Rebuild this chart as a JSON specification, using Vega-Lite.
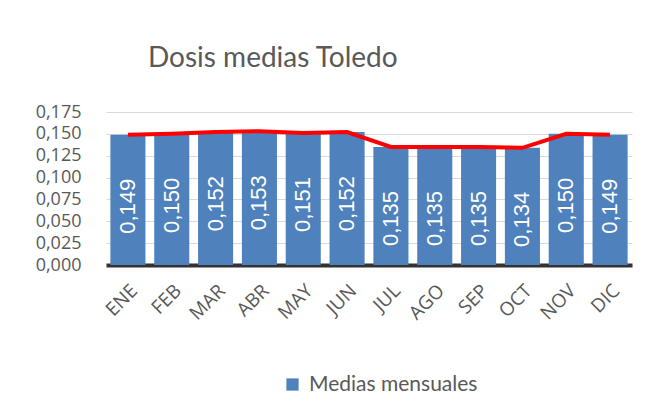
{
  "$schema": "https://vega.github.io/schema/vega-lite/v6.json",
  "width": 526,
  "height": 153,
  "autosize": {"type": "none"},
  "padding": {"left": 106, "top": 112, "right": 16, "bottom": 140},
  "background": "white",
  "title": {
    "text": "Dosis medias Toledo",
    "font": "Lato",
    "fontSize": 28,
    "fontWeight": "normal",
    "color": "#595959",
    "anchor": "start",
    "frame": "group",
    "dx": 42,
    "offset": 30
  },
  "config": {
    "locale": {
      "number": {"decimal": ",", "thousands": ".", "grouping": [3], "currency": ["", " €"]}
    },
    "view": {"stroke": null},
    "axis": {"labelColor": "#595959", "titleColor": "#595959"}
  },
  "data": {
    "values": [
      {"mes": "ENE", "v": 0.149, "serie": "Medias mensuales"},
      {"mes": "FEB", "v": 0.150, "serie": "Medias mensuales"},
      {"mes": "MAR", "v": 0.152, "serie": "Medias mensuales"},
      {"mes": "ABR", "v": 0.153, "serie": "Medias mensuales"},
      {"mes": "MAY", "v": 0.151, "serie": "Medias mensuales"},
      {"mes": "JUN", "v": 0.152, "serie": "Medias mensuales"},
      {"mes": "JUL", "v": 0.135, "serie": "Medias mensuales"},
      {"mes": "AGO", "v": 0.135, "serie": "Medias mensuales"},
      {"mes": "SEP", "v": 0.135, "serie": "Medias mensuales"},
      {"mes": "OCT", "v": 0.134, "serie": "Medias mensuales"},
      {"mes": "NOV", "v": 0.150, "serie": "Medias mensuales"},
      {"mes": "DIC", "v": 0.149, "serie": "Medias mensuales"}
    ]
  },
  "encoding": {
    "x": {
      "field": "mes",
      "type": "nominal",
      "sort": null,
      "scale": {"paddingInner": 0.2, "paddingOuter": 0.1},
      "axis": {
        "title": null,
        "labelAngle": -45,
        "labelFont": "Open Sans",
        "labelFontSize": 19,
        "labelPadding": 16,
        "labelDx": -4,
        "ticks": false,
        "domainColor": "#333333",
        "domainWidth": 4
      }
    },
    "y": {
      "field": "v",
      "type": "quantitative",
      "scale": {"domain": [0, 0.175]},
      "axis": {
        "title": null,
        "values": [0, 0.025, 0.05, 0.075, 0.1, 0.125, 0.15, 0.175],
        "format": ".3f",
        "labelFont": "Open Sans",
        "labelFontSize": 18,
        "labelPadding": 25,
        "ticks": false,
        "domain": false,
        "gridColor": "#d9d9d9"
      }
    }
  },
  "layer": [
    {
      "mark": {"type": "bar", "color": "#4f81bd"},
      "encoding": {
        "color": {
          "field": "serie",
          "type": "nominal",
          "scale": {"range": ["#4f81bd"]},
          "legend": {
            "title": null,
            "orient": "none",
            "legendX": 176,
            "legendY": 262,
            "symbolType": "square",
            "symbolSize": 150,
            "symbolOpacity": 1,
            "labelFont": "Lato",
            "labelFontSize": 21,
            "labelColor": "#595959",
            "labelOffset": 6,
            "labelLimit": 400
          }
        }
      }
    },
    {
      "mark": {"type": "line", "color": "#ff0000", "strokeWidth": 4},
      "encoding": {}
    },
    {
      "mark": {
        "type": "text",
        "angle": 270,
        "align": "right",
        "baseline": "middle",
        "color": "white",
        "font": "Liberation Sans",
        "fontSize": 22,
        "yOffset": 44
      },
      "encoding": {
        "text": {"field": "v", "type": "quantitative", "format": ".3f"}
      }
    }
  ]
}
